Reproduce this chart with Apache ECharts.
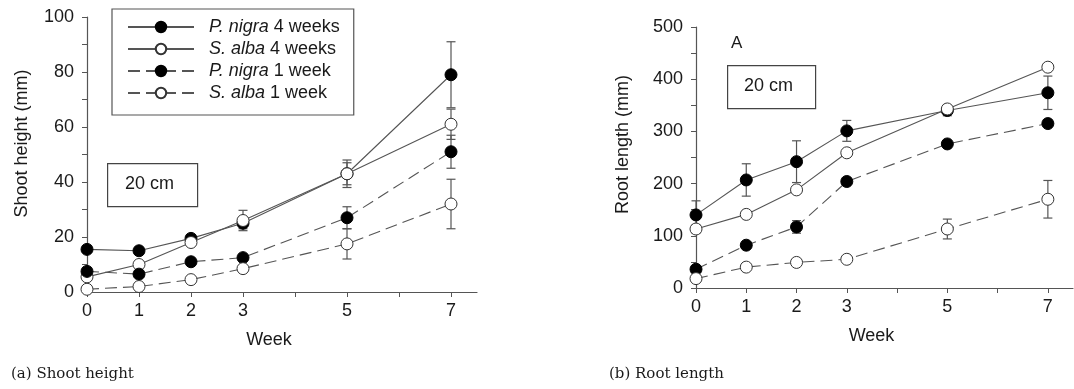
<!DOCTYPE html>
<html><head><meta charset="utf-8">
<script src="https://cdn.jsdelivr.net/npm/echarts@6/dist/echarts.min.js"></script>
<style>html,body{margin:0;padding:0;background:#fff}#c{width:1074px;height:389px}</style>
</head><body><div id="c"></div>
<script>
const weeks = [0, 1, 2, 3, 5, 7];
const seriesNames = ['P. nigra 4 weeks', 'S. alba 4 weeks', 'P. nigra 1 week', 'S. alba 1 week'];
const xTickValues = [0, 1, 2, 3, 4, 5, 6, 7];
const xLabelValues = [0, 1, 2, 3, 5, 7];

// (a) Shoot height (mm)
const shootPN4 = [15.5, 15, 19.5, 25, 43, 79];
const shootSA4 = [5.5, 10, 18, 26, 43, 61];
const shootPN1 = [7.5, 6.5, 11, 12.5, 27, 51];
const shootSA1 = [1, 2, 4.5, 8.5, 17.5, 32];
const shootPN4err = [0, 0, 1, 2, 5, 12];
const shootSA4err = [0, 0, 1, 3.7, 4, 5.5];
const shootPN1err = [0, 0, 0, 0, 4, 6];
const shootSA1err = [0, 0, 0, 0, 5.5, 9];

// (b) Root length (mm)
const rootPN4 = [140, 207, 242, 301, 340, 374];
const rootSA4 = [113, 141, 188, 259, 343, 423];
const rootPN1 = [36, 82, 117, 204, 276, 315];
const rootSA1 = [18, 40, 49, 55, 113, 170];
const rootPN4err = [27, 31, 40, 20, 10, 32];
const rootSA4err = [8, 0, 0, 0, 5, 0];
const rootPN1err = [0, 0, 12, 0, 0, 0];
const rootSA1err = [0, 0, 0, 0, 19, 36];

const FONT = '"Liberation Sans", Arial, sans-serif';
const FS = 18;
const AX = '#555';
const LINE = '#555';
const TXT = '#1a1a1a';

const styles = [
  {filled: true, dash: 'solid'},
  {filled: false, dash: 'solid'},
  {filled: true, dash: [12, 6]},
  {filled: false, dash: [12, 6]}
];

function lineSeries(name, vals, gi, idx) {
  const s = styles[idx];
  return {
    name: name, type: 'line', xAxisIndex: gi, yAxisIndex: gi,
    data: weeks.map((w, i) => [w, vals[i]]),
    symbol: 'circle', symbolSize: 12, z: 5 + idx,
    lineStyle: {color: LINE, width: 1.1, type: s.dash},
    itemStyle: {color: s.filled ? '#000' : '#fff', borderColor: s.filled ? '#000' : '#333', borderWidth: 1},
    emphasis: {disabled: true}, animation: false
  };
}
function errSeries(vals, errs, gi) {
  const d = [];
  weeks.forEach((w, i) => { if (errs[i] > 0) d.push([w, vals[i] - errs[i], vals[i] + errs[i]]); });
  return {
    type: 'custom', xAxisIndex: gi, yAxisIndex: gi, z: 2, animation: false, silent: true,
    data: d,
    renderItem: function (params, api) {
      const lo = api.coord([api.value(0), api.value(1)]);
      const hi = api.coord([api.value(0), api.value(2)]);
      const w = 4.5;
      const st = {stroke: '#555', lineWidth: 1.2};
      return {type: 'group', children: [
        {type: 'line', shape: {x1: lo[0], y1: lo[1], x2: hi[0], y2: hi[1]}, style: st},
        {type: 'line', shape: {x1: lo[0] - w, y1: lo[1], x2: lo[0] + w, y2: lo[1]}, style: st},
        {type: 'line', shape: {x1: hi[0] - w, y1: hi[1], x2: hi[0] + w, y2: hi[1]}, style: st}
      ]};
    }
  };
}
function xAxis(gi) {
  return {
    gridIndex: gi, type: 'value', min: 0, max: 7.5, interval: 1,
    name: 'Week', nameLocation: 'middle', nameGap: 39,
    nameTextStyle: {fontFamily: FONT, fontSize: FS, color: TXT, padding: [0, 26, 0, 0]},
    axisLine: {lineStyle: {color: AX, width: 1.2}},
    axisTick: {show: true, length: 5, lineStyle: {color: AX}, customValues: xTickValues},
    axisLabel: {fontFamily: FONT, fontSize: FS, color: TXT, margin: 10, customValues: xLabelValues},
    splitLine: {show: false}
  };
}
function yAxis(gi, max, interval, name, gap, shift) {
  return {
    gridIndex: gi, type: 'value', min: 0, max: max, interval: interval,
    name: name, nameLocation: 'middle', nameGap: gap,
    nameTextStyle: {fontFamily: FONT, fontSize: FS, color: TXT, padding: [0, 0, 0, shift]},
    axisLine: {show: true, lineStyle: {color: AX, width: 1.2}},
    axisTick: {show: true, length: 5, lineStyle: {color: AX}},
    minorTick: {show: true, splitNumber: 2, length: 5, lineStyle: {color: AX}},
    axisLabel: {fontFamily: FONT, fontSize: FS, color: TXT, margin: 13},
    splitLine: {show: false}
  };
}
const rich = {i: {fontStyle: 'italic', fontFamily: FONT, fontSize: FS, color: TXT}, n: {fontFamily: FONT, fontSize: FS, color: TXT}};

const option = {
  backgroundColor: '#fff',
  animation: false,
  grid: [
    {left: 87, top: 17, width: 390, height: 275},
    {left: 696, top: 27, width: 377, height: 261}
  ],
  xAxis: [xAxis(0), xAxis(1)],
  yAxis: [yAxis(0, 100, 20, 'Shoot height (mm)', 56, 22), yAxis(1, 500, 100, 'Root length (mm)', 64, 26)],
  legend: {
    data: seriesNames, orient: 'vertical', left: 112, top: 9,
    itemWidth: 66, itemHeight: 13, itemGap: 4,
    padding: [9, 14, 13, 15],
    borderColor: '#555', borderWidth: 1.2, backgroundColor: '#fff',
    formatter: function (name) { const p = name.split(' '); return '{i|' + p[0] + ' ' + p[1] + '}{n| ' + p.slice(2).join(' ') + '}'; },
    textStyle: {rich: rich, padding: [0, 0, 0, 10]}
  },
  graphic: [
    {type: 'rect', left: 107, top: 163, shape: {width: 90, height: 43}, style: {fill: '#fff', stroke: '#444', lineWidth: 1.2}},
    {type: 'text', left: 125, top: 175, style: {text: '20 cm', font: FS + 'px ' + FONT, fill: TXT}},
    {type: 'rect', left: 727, top: 65, shape: {width: 88, height: 43}, style: {fill: '#fff', stroke: '#444', lineWidth: 1.2}},
    {type: 'text', left: 744, top: 77, style: {text: '20 cm', font: FS + 'px ' + FONT, fill: TXT}},
    {type: 'text', left: 731, top: 35, style: {text: 'A', font: '17px ' + FONT, fill: TXT}},
    {type: 'text', left: 11, top: 367, style: {text: '(a) Shoot height', font: '15px "DejaVu Serif", serif', fill: TXT}},
    {type: 'text', left: 609, top: 367, style: {text: '(b) Root length', font: '15px "DejaVu Serif", serif', fill: TXT}}
  ],
  series: [
    errSeries(shootPN4, shootPN4err, 0), errSeries(shootSA4, shootSA4err, 0),
    errSeries(shootPN1, shootPN1err, 0), errSeries(shootSA1, shootSA1err, 0),
    lineSeries(seriesNames[0], shootPN4, 0, 0), lineSeries(seriesNames[1], shootSA4, 0, 1),
    lineSeries(seriesNames[2], shootPN1, 0, 2), lineSeries(seriesNames[3], shootSA1, 0, 3),
    errSeries(rootPN4, rootPN4err, 1), errSeries(rootSA4, rootSA4err, 1),
    errSeries(rootPN1, rootPN1err, 1), errSeries(rootSA1, rootSA1err, 1),
    lineSeries(seriesNames[0], rootPN4, 1, 0), lineSeries(seriesNames[1], rootSA4, 1, 1),
    lineSeries(seriesNames[2], rootPN1, 1, 2), lineSeries(seriesNames[3], rootSA1, 1, 3)
  ]
};
const chart = echarts.init(document.getElementById('c'), null, {renderer: 'canvas'});
chart.setOption(option);
</script></body></html>
